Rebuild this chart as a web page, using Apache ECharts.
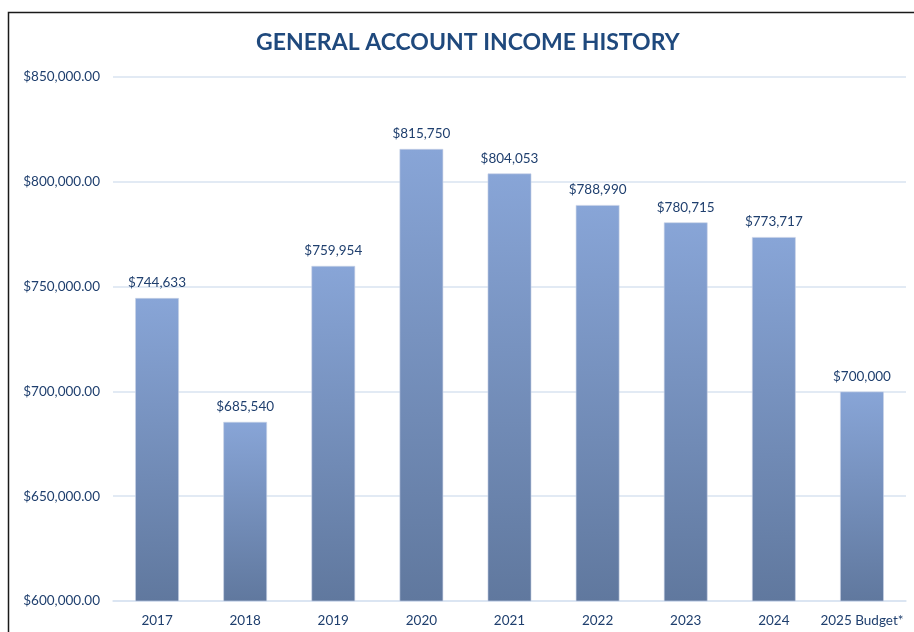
<!DOCTYPE html>
<html>
<head>
<meta charset="utf-8">
<script src="https://cdn.jsdelivr.net/npm/echarts@6/dist/echarts.min.js"></script>
<style>html,body{margin:0;padding:0;background:#fff}#c{width:914px;height:632px}</style>
</head>
<body>
<div id="c"></div>
<script>
const categories = ['2017','2018','2019','2020','2021','2022','2023','2024','2025 Budget*'];
const income = [744633, 685540, 759954, 815750, 804053, 788990, 780715, 773717, 700000];
const yTicks = [600000, 650000, 700000, 750000, 800000, 850000];

const fmtAxis = v => '$' + v.toLocaleString('en-US', {minimumFractionDigits: 2, maximumFractionDigits: 2});
const fmtLabel = v => '$' + v.toLocaleString('en-US');

const chart = echarts.init(document.getElementById('c'));
chart.setOption({
  animation: false,
  textStyle: {fontFamily: 'Lato'},
  title: {
    text: 'GENERAL ACCOUNT INCOME HISTORY',
    left: 251,
    top: 26,
    textStyle: {fontFamily: 'Lato', fontWeight: 'bold', fontSize: 23, color: '#1F497D'}
  },
  graphic: [{
    type: 'rect', left: 6, top: 10, silent: true,
    shape: {width: 930, height: 700},
    style: {fill: 'none', stroke: '#1a1a1a', lineWidth: 1.5}
  }],
  grid: {left: 113, right: 8, top: 77, bottom: 31},
  xAxis: {
    type: 'category',
    data: categories,
    axisTick: {show: false},
    axisLine: {lineStyle: {color: '#D9E3F1', width: 1.5}},
    axisLabel: {color: '#1F3F6E', fontSize: 13.5, margin: 13, interval: 0}
  },
  yAxis: {
    type: 'value',
    min: yTicks[0],
    max: yTicks[yTicks.length - 1],
    interval: 50000,
    axisLine: {show: false},
    axisTick: {show: false},
    splitLine: {lineStyle: {color: '#D9E3F1', width: 1.5}},
    axisLabel: {color: '#1F3F6E', fontSize: 13.5, margin: 13, formatter: fmtAxis}
  },
  series: [{
    type: 'bar',
    data: income,
    barWidth: '50%',
    itemStyle: {
      color: new echarts.graphic.LinearGradient(0, 0, 0, 1, [
        {offset: 0, color: '#88A5D7'},
        {offset: 1, color: '#60789E'}
      ]),
      borderColor: 'rgba(200,210,230,0.6)',
      borderWidth: 1
    },
    label: {
      show: true, position: 'top', distance: 8,
      color: '#1F3F6E', fontSize: 13.5,
      formatter: p => fmtLabel(p.value)
    }
  }]
});
</script>
</body>
</html>
